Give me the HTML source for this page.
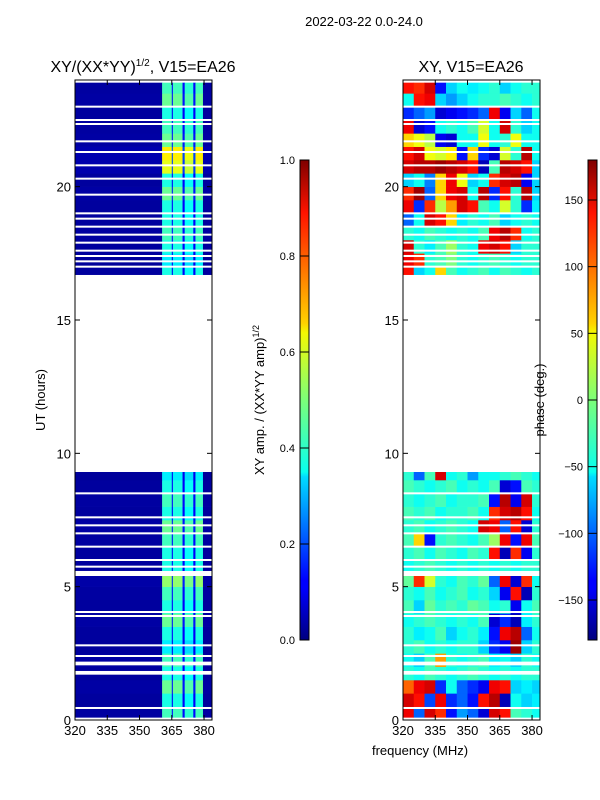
<!DOCTYPE html>
<html><head><meta charset="utf-8">
<style>
body{margin:0;background:#fff;}
svg{display:block;font-family:"Liberation Sans",sans-serif;}
</style></head>
<body>
<svg id="fig" width="600" height="800" viewBox="0 0 600 800" xmlns="http://www.w3.org/2000/svg">
<defs>
<linearGradient id="jetgrad" x1="0" y1="1" x2="0" y2="0">
<stop offset="0" stop-color="#00007f"/><stop offset="0.11" stop-color="#0000ff"/><stop offset="0.125" stop-color="#0000ff"/><stop offset="0.34" stop-color="#00dcff"/><stop offset="0.35" stop-color="#07ffef"/><stop offset="0.5" stop-color="#7cff79"/><stop offset="0.64" stop-color="#f4f802"/><stop offset="0.66" stop-color="#ffd200"/><stop offset="0.89" stop-color="#ff1300"/><stop offset="1" stop-color="#7f0000"/>
</linearGradient>
</defs>
<text x="364" y="26" font-size="13" text-anchor="middle">2022-03-22 0.0-24.0</text>
<text x="143" y="72" font-size="16" text-anchor="middle">XY/(XX*YY)<tspan font-size="10" dy="-6">1/2</tspan><tspan dy="6">, V15=EA26</tspan></text>
<text x="471" y="72" font-size="16" text-anchor="middle">XY, V15=EA26</text>
<text transform="translate(45,400) rotate(-90)" font-size="13" text-anchor="middle">UT (hours)</text>
<text transform="translate(264,400) rotate(-90)" font-size="13" text-anchor="middle">XY amp. / (XX*YY amp)<tspan font-size="9" dy="-5">1/2</tspan></text>
<text transform="translate(544,400) rotate(-90)" font-size="13" text-anchor="middle">phase (deg.)</text>
<text x="420" y="755" font-size="13" text-anchor="middle">frequency (MHz)</text>
<g id="ampPanel"></g>
<g id="phasePanel"></g>
<g id="axes"></g>
</svg>
<script>
// ---- data ----
const segments = [[0.1,1.7],[1.85,2.05],[2.2,5.4],[5.6,9.3],[16.7,23.9]];
const gapLines = [0.45,2.4,2.8,3.9,4.05,5.75,6.0,6.5,7.0,7.3,7.6,8.5,17.0,17.2,17.4,17.6,17.9,18.2,18.5,18.8,19.0,19.7,20.3,20.8,21.3,21.7,22.35,22.5,23.0];
const ampFreqEdges = [320,360.5,365,365.5,370,371,375,376,379.5,384];
const ampColVals = [0.03,0.4,0.12,0.4,0.12,0.38,0.12,0.4,0.03];
const ampRowVals = [1.1,1.0,1.2,1.0,1.1,0.9,1.0,1.2,1.0,1.1,1.3,1.0,1.0,1.1,1.2,1.0,1.1,1.0,0.9,0,0,0,0,0,0,0,0,0,0,0,0,0,0,1.0,0.9,1.0,1.1,1.0,1.0,1.2,1.0,1.5,1.6,1.2,1.1,1.0,1.2,1.1];
const phaseFreqEdges = [320,325,330,335,340,345,350,355,360,365,370,375,380,384];
const phaseRows = [
[140,-100,150,120,-130,-80,-100,-150,150,130,-20,-30,-40],
[150,130,-110,140,-120,-100,-130,130,160,-160,-40,-60,-50],
[100,140,150,-120,-40,-100,-120,-140,140,130,-60,-50,-60],
[-30,-40,-20,-30,-40,-30,-20,-30,-40,-30,-40,-30,-30],
[-40,-60,-20,80,-30,-40,-30,-20,-50,-40,-60,-30,-40],
[-30,-20,-40,-30,-40,-30,-30,-60,-120,-140,170,-60,-30],
[-30,-50,-40,-20,-60,-40,-30,-50,-130,140,160,-100,-40],
[-40,-30,-20,-30,-40,-30,-40,-20,-150,-120,-160,-50,-30],
[-20,-60,-10,-30,-20,-30,-10,-20,-40,-30,-140,-40,-20],
[-30,-40,-20,-40,-30,-20,-40,-30,-60,-140,130,-160,-30],
[-10,120,30,-30,-40,-20,-30,-10,-100,140,-150,120,-40],
[-40,-30,-20,-30,-40,-30,-40,-30,-40,-30,-40,-30,-30],
[-30,-20,-40,-20,-30,-40,-20,-30,130,-160,120,-140,-30],
[-20,60,-130,-30,-20,-30,-40,-20,10,140,-130,140,-20],
[-30,-20,-40,-30,-20,-30,-40,150,140,-100,130,-150,-30],
[-20,-30,-20,-40,-30,-30,-20,-40,120,150,160,130,-40],
[-30,-40,-30,-20,-40,-30,-30,-20,-130,160,-140,150,-30],
[-20,-30,-40,-30,-20,-40,-30,-40,-20,-150,-130,-20,-30],
[-30,-100,-20,150,-40,-30,-80,-40,-40,-30,-20,-30,-40],
null,null,null,null,null,null,null,null,null,null,null,null,null,null,
[130,-60,-40,60,-20,-40,-30,-20,-40,-20,-30,-40,-30],
[140,120,-30,-20,0,-30,-40,-30,-20,-30,-40,-30,-30],
[150,-30,-50,-20,10,-30,-40,140,150,130,-60,-30,-30],
[-30,-40,-20,-30,-40,-30,-40,-20,140,160,120,-40,-30],
[-100,-40,150,130,60,-50,-30,-40,-20,-60,-40,-30,-40],
[140,-120,120,20,80,150,130,-20,-40,30,-30,-120,-50],
[120,170,-100,60,140,150,-40,160,-120,130,-30,160,-60],
[-60,-40,-90,60,140,40,-60,-40,120,150,160,-140,-60],
[150,160,160,170,160,150,130,-160,-20,160,150,130,-60],
[130,150,40,30,50,-130,60,-120,-150,30,-30,160,-40],
[60,40,20,-140,-150,-40,-40,40,-40,-30,40,-40,-40],
[140,-150,-130,-40,-30,-40,-20,30,-40,150,-30,-60,-40],
[-120,-100,-80,-150,-140,-130,-120,-100,140,-140,-60,-100,-40],
[-40,130,140,-60,-80,-60,-40,-30,-30,-20,-30,-40,-30],
[130,120,150,-130,-60,-40,-50,-40,-30,-60,-40,-30,-30]
];
const xTicks = [320,335,350,365,380];
const yTicks = [0,5,10,15,20];
const ampCbTicks = [0.0,0.2,0.4,0.6,0.8,1.0];
const phaseCbTicks = [-150,-100,-50,0,50,100,150];

// ---- scales ----
const NS='http://www.w3.org/2000/svg';
const T=80,B=720;
const yS=h=>B-(h/24)*(B-T);
const panels=[{x0:75,x1:212},{x0:403,x1:540}];
const fMin=320,fMax=383.7;
const xS=(p,f)=>p.x0+(f-fMin)/(fMax-fMin)*(p.x1-p.x0);
function jet(v){v=Math.max(0,Math.min(1,v));
 const c=x=>Math.round(255*Math.max(0,Math.min(1,x)));
 const r=c(Math.min(4*v-1.5,-4*v+4.5)),g=c(Math.min(4*v-0.5,-4*v+3.5)),b=c(Math.min(4*v+0.5,-4*v+2.5));
 return `rgb(${r},${g},${b})`;}
function el(tag,attrs,parent){const e=document.createElementNS(NS,tag);for(const k in attrs)e.setAttribute(k,attrs[k]);parent.appendChild(e);return e;}
const ampG=document.getElementById('ampPanel'),phG=document.getElementById('phasePanel'),axG=document.getElementById('axes');

function clipPx(p,f){return Math.min(p.x1,Math.max(p.x0,xS(p,f)));}
segments.forEach(seg=>{
 for(let r=0;r<48;r++){
  const h0=Math.max(r*0.5,seg[0]),h1=Math.min(r*0.5+0.5,seg[1]);
  if(h1<=h0)continue;
  const y=yS(h1),hh=yS(h0)-yS(h1);
  for(let c=0;c<ampColVals.length;c++){
   const p=panels[0];const xa=clipPx(p,ampFreqEdges[c]),xb=clipPx(p,ampFreqEdges[c+1]);
   if(xb<=xa)continue;
   const rc=el('rect',{x:xa,y:y,width:xb-xa+0.3,height:hh+0.3,fill:jet(ampColVals[c]*ampRowVals[r])},ampG);
   
   
  }
  const row=phaseRows[r];if(!row)continue;
  for(let c=0;c<row.length;c++){
   const p=panels[1];const xa=clipPx(p,phaseFreqEdges[c]),xb=clipPx(p,phaseFreqEdges[c+1]);
   if(xb<=xa)continue;
   const rc=el('rect',{x:xa,y:y,width:xb-xa+0.3,height:hh+0.3,fill:jet((row[c]+180)/360)},phG);
   
   
  }
 }
});
gapLines.forEach(h=>{panels.forEach((p,i)=>{
 const l=el('rect',{x:p.x0,y:yS(h)-1,width:p.x1-p.x0,height:2,fill:'#fff'},i?phG:ampG);
 
 
});});

panels.forEach((p,i)=>{
 const fr=el('rect',{x:p.x0,y:T,width:p.x1-p.x0,height:B-T,fill:'none',stroke:'#000','stroke-width':1},axG);
 
 
 xTicks.forEach(f=>{const x=xS(p,f);
  el('line',{x1:x,y1:B,x2:x,y2:B-5,stroke:'#000'},axG);el('line',{x1:x,y1:T,x2:x,y2:T+5,stroke:'#000'},axG);
  const t=el('text',{x:x,y:B+15,'font-size':13,'text-anchor':'middle'},axG);t.textContent=f;
  
  });
 yTicks.forEach(h=>{const y=yS(h);
  el('line',{x1:p.x0,y1:y,x2:p.x0+5,y2:y,stroke:'#000'},axG);el('line',{x1:p.x1,y1:y,x2:p.x1-5,y2:y,stroke:'#000'},axG);
  const t=el('text',{x:p.x0-4,y:y+5,'font-size':13,'text-anchor':'end'},axG);t.textContent=h;
  
  });
});
// colorbars
const cbs=[{x:300,ticks:ampCbTicks,min:0,max:1,fmt:v=>v.toFixed(1),name:'amp-colorbar'},{x:588,ticks:phaseCbTicks,min:-180,max:180,fmt:v=>String(v).replace('-','\u2212'),name:'phase-colorbar'}];
cbs.forEach(cb=>{
 const r=el('rect',{x:cb.x,y:160,width:9,height:480,fill:'url(#jetgrad)',stroke:'#000','stroke-width':1},axG);
 
 
 cb.ticks.forEach(v=>{const y=640-(v-cb.min)/(cb.max-cb.min)*480;
  el('line',{x1:cb.x,y1:y,x2:cb.x+9,y2:y,stroke:'#000'},axG);
  const t=el('text',{x:cb.x-5,y:y+4,'font-size':11,'text-anchor':'end'},axG);t.textContent=cb.fmt(v);
  
  });
});
</script>
</body></html>
